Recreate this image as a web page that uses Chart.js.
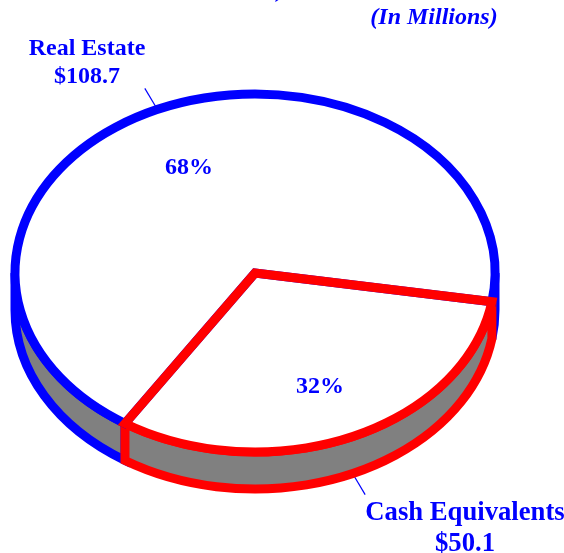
<!DOCTYPE html>
<html>
<head>
<meta charset="utf-8">
<script src="https://cdn.jsdelivr.net/npm/chart.js@4"></script>
<style>html,body{margin:0;padding:0;background:#fff;overflow:hidden}canvas{display:block}</style>
</head>
<body>
<canvas id="c" width="564" height="553"></canvas>
<script>
const categories = ["Real Estate", "Cash Equivalents"];
const values = [108.7, 50.1];
const subtitle = "(In Millions)";

const sliceColors = ["#0000ff", "#ff0000"];
const squash = 179 / 240, depth = 37, rimWidth = 9, leaderLength = 31;
const total = values.reduce((a, b) => a + b, 0);
const serif = '"Liberation Serif", serif';

function geom(el) {
  const p = el.getProps(["x", "y", "startAngle", "endAngle", "outerRadius"], true);
  return {cx: p.x, cy: p.y, rx: p.outerRadius, ry: p.outerRadius * squash, a0: p.startAngle, a1: p.endAngle};
}
function visibleSpans(a0, a1) {
  const out = [], T = 2 * Math.PI;
  for (let k = -1; k <= 2; k++) {
    const s = Math.max(a0, k * T), e = Math.min(a1, k * T + Math.PI);
    if (e > s) out.push([s, e]);
  }
  return out;
}
const pie3d = {
  id: "pie3d",
  beforeDatasetsDraw(chart) {
    const ctx = chart.ctx, els = chart.getDatasetMeta(0).data;
    const g0 = geom(els[0]);
    ctx.save();
    ctx.lineWidth = 1.2;
    ctx.strokeStyle = "#0000ff";
    els.forEach((el) => {
      const g = geom(el), m = (g.a0 + g.a1) / 2, c = Math.cos(m), s = Math.sin(m);
      const off = s > 0 ? depth : 0;
      ctx.beginPath();
      ctx.moveTo(g.cx + g.rx * c, g.cy + off + g.ry * s);
      ctx.lineTo(g.cx + (g.rx + leaderLength) * c, g.cy + off + (g.rx + leaderLength) * squash * s);
      ctx.stroke();
    });
    ctx.lineWidth = rimWidth;
    ctx.lineJoin = "miter";
    ctx.miterLimit = 2;
    els.forEach((el, i) => {
      const g = geom(el);
      visibleSpans(g.a0, g.a1).forEach(([s, e]) => {
        ctx.beginPath();
        ctx.ellipse(g.cx, g.cy + depth, g.rx, g.ry, 0, s, e);
        ctx.ellipse(g.cx, g.cy, g.rx, g.ry, 0, e, s, true);
        ctx.closePath();
        ctx.fillStyle = "#808080";
        ctx.fill();
        ctx.strokeStyle = sliceColors[i];
        ctx.stroke();
      });
    });
    ctx.restore();
    ctx.save();
    ctx.translate(g0.cx, g0.cy);
    ctx.scale(1, squash);
    ctx.translate(-g0.cx, -g0.cy);
  },
  afterDatasetsDraw(chart) {
    const ctx = chart.ctx, els = chart.getDatasetMeta(0).data;
    ctx.restore();
    ctx.save();
    ctx.lineWidth = rimWidth;
    ctx.lineJoin = "miter";
    ctx.miterLimit = 2;
    els.forEach((el, i) => {
      const g = geom(el);
      ctx.beginPath();
      ctx.moveTo(g.cx, g.cy);
      ctx.ellipse(g.cx, g.cy, g.rx, g.ry, 0, g.a0, g.a1);
      ctx.closePath();
      ctx.strokeStyle = sliceColors[i];
      ctx.stroke();
    });
    ctx.fillStyle = "#0000ff";
    ctx.textAlign = "center";
    ctx.textBaseline = "alphabetic";
    ctx.font = 'bold 24px ' + serif;
    ctx.fillText(categories[0], 87, 55);
    ctx.fillText("$" + values[0].toFixed(1), 87, 83);
    ctx.fillText(Math.round(values[0] / total * 100) + "%", 189, 174);
    ctx.fillText(Math.round(values[1] / total * 100) + "%", 320, 393);
    ctx.font = 'bold 26.7px ' + serif;
    ctx.fillText(categories[1], 465, 520);
    ctx.fillText("$" + values[1].toFixed(1), 465, 551);
    ctx.font = 'italic bold 24px ' + serif;
    ctx.fillText(subtitle, 434, 24);
    ctx.fillText(")", 281, -3);
    ctx.restore();
  }
};

new Chart(document.getElementById("c"), {
  type: "pie",
  data: {
    labels: categories,
    datasets: [{data: values, backgroundColor: "#ffffff", borderWidth: 0, clip: false}]
  },
  options: {
    responsive: false,
    animation: false,
    rotation: 212.8,
    layout: {padding: {left: 15, right: 69, top: 33, bottom: 40}},
    plugins: {legend: {display: false}, tooltip: {enabled: false}, title: {display: false}}
  },
  plugins: [pie3d]
});
</script>
</body>
</html>
